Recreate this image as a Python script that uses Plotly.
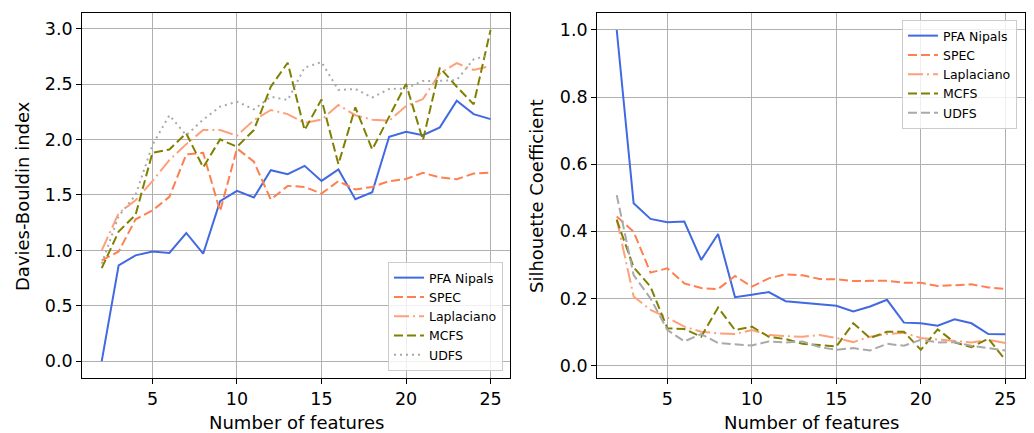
import plotly.graph_objects as go

# Number of selected features
features = list(range(2, 26))

# Davies-Bouldin index per method
pfa_db = [0.0, 0.865, 0.955, 0.99, 0.977, 1.157, 0.97, 1.444, 1.537, 1.477, 1.724, 1.688,
          1.763, 1.627, 1.73, 1.462, 1.525, 2.025, 2.07, 2.04, 2.11, 2.35, 2.23, 2.185]
spec_db = [0.91, 0.99, 1.28, 1.36, 1.483, 1.866, 1.881, 1.354, 1.92, 1.80, 1.459, 1.582,
           1.573, 1.513, 1.625, 1.55, 1.573, 1.625, 1.645, 1.70, 1.658, 1.643, 1.694, 1.703]
lap_db = [1.0, 1.335, 1.453, 1.625, 1.815, 1.959, 2.086, 2.086, 2.035, 2.176, 2.267, 2.23,
          2.15, 2.18, 2.312, 2.22, 2.18, 2.17, 2.303, 2.366, 2.598, 2.69, 2.628, 2.665]
mcfs_db = [0.84, 1.17, 1.32, 1.881, 1.911, 2.056, 1.749, 2.002, 1.935, 2.086, 2.477, 2.694,
           2.086, 2.363, 1.778, 2.291, 1.911, 2.206, 2.502, 1.995, 2.649, 2.477, 2.318, 2.99]
udfs_db = [0.88, 1.31, 1.50, 1.95, 2.22, 2.04, 2.18, 2.297, 2.342, 2.273, 2.387, 2.357,
           2.65, 2.70, 2.448, 2.457, 2.38, 2.457, 2.46, 2.53, 2.53, 2.538, 2.725, 2.764]

# Silhouette coefficient per method
pfa_sil = [1.0, 0.4835, 0.437, 0.427, 0.429, 0.315, 0.392, 0.204, 0.211, 0.219, 0.192, 0.188,
           0.183, 0.178, 0.161, 0.176, 0.196, 0.128, 0.126, 0.119, 0.138, 0.126, 0.094, 0.0935]
spec_sil = [0.444, 0.399, 0.277, 0.29, 0.245, 0.231, 0.228, 0.267, 0.235, 0.26, 0.272, 0.269,
            0.258, 0.257, 0.252, 0.252, 0.253, 0.247, 0.247, 0.237, 0.239, 0.242, 0.233, 0.228]
lap_sil = [0.436, 0.206, 0.166, 0.143, 0.116, 0.101, 0.096, 0.094, 0.106, 0.091, 0.088, 0.086,
           0.091, 0.082, 0.07, 0.086, 0.094, 0.098, 0.082, 0.077, 0.074, 0.069, 0.077, 0.067]
mcfs_sil = [0.434, 0.293, 0.235, 0.111, 0.109, 0.086, 0.173, 0.106, 0.116, 0.086, 0.079, 0.065,
            0.061, 0.057, 0.126, 0.082, 0.101, 0.101, 0.047, 0.108, 0.069, 0.055, 0.08, 0.017]
udfs_sil = [0.508, 0.27, 0.2, 0.106, 0.072, 0.094, 0.067, 0.064, 0.06, 0.072, 0.069, 0.072,
            0.055, 0.047, 0.052, 0.045, 0.065, 0.059, 0.077, 0.069, 0.07, 0.059, 0.051, 0.045]

x_ticks = [5, 10, 15, 20, 25]
db_ticks = [0.0, 0.5, 1.0, 1.5, 2.0, 2.5, 3.0]
sil_ticks = [0.0, 0.2, 0.4, 0.6, 0.8, 1.0]

W, H = 1034, 433
FONT = "DejaVu Sans"
TICK_SIZE = 17.5
TITLE_SIZE = 18
LEGEND_SIZE = 12.5

DASH = "9px,4px"
DASHDOT = "15px,4px,2px,4px"
DOT = "2px,4px"

left_series = [
    ("PFA Nipals", pfa_db, "#4169E1", "solid"),
    ("SPEC", spec_db, "#FF7F50", DASH),
    ("Laplaciano", lap_db, "#FFA07A", DASHDOT),
    ("MCFS", mcfs_db, "#808000", DASH),
    ("UDFS", udfs_db, "#A9A9A9", DOT),
]
right_series = [
    ("PFA Nipals", pfa_sil, "#4169E1", "solid"),
    ("SPEC", spec_sil, "#FF7F50", DASH),
    ("Laplaciano", lap_sil, "#FFA07A", DASHDOT),
    ("MCFS", mcfs_sil, "#808000", DASH),
    ("UDFS", udfs_sil, "#A9A9A9", DASH),
]

fig = go.Figure()
for name, vals, color, dash in left_series:
    fig.add_trace(go.Scatter(x=features, y=vals, mode="lines", name=name,
                             line=dict(color=color, width=2, dash=dash),
                             xaxis="x", yaxis="y", legend="legend"))
for name, vals, color, dash in right_series:
    fig.add_trace(go.Scatter(x=features, y=vals, mode="lines", name=name,
                             line=dict(color=color, width=2, dash=dash),
                             xaxis="x2", yaxis="y2", legend="legend2"))

def px_x(p):
    return p / W

def px_y(p):
    return 1 - p / H

axis_common = dict(
    showline=True, mirror=True, linecolor="black", linewidth=1.2,
    showgrid=True, gridcolor="#b0b0b0", gridwidth=1.2,
    ticks="outside", ticklen=5, tickwidth=1.2, tickcolor="black",
    tickfont=dict(family=FONT, size=TICK_SIZE, color="black"),
    zeroline=False, automargin=False,
)

ydom = [px_y(378), px_y(13.3)]

legend_style = dict(bgcolor="rgba(255,255,255,0.8)", bordercolor="#cccccc", borderwidth=1,
                    font=dict(family=FONT, size=LEGEND_SIZE, color="black"))

def axis_title(text, x, y, angle=0):
    return dict(text=text, x=px_x(x), y=px_y(y), xref="paper", yref="paper",
                showarrow=False, xanchor="center", yanchor="middle", textangle=angle,
                font=dict(family=FONT, size=TITLE_SIZE, color="black"))

fig.update_layout(
    width=W, height=H,
    margin=dict(l=0, r=0, t=0, b=0),
    paper_bgcolor="white", plot_bgcolor="white",
    font=dict(family=FONT, color="black"),
    xaxis=dict(domain=[px_x(82.3), px_x(510)], range=[0.85, 26.15],
               tickvals=x_ticks, anchor="y", **axis_common),
    yaxis=dict(domain=ydom, range=[-0.152, 3.14], tickvals=db_ticks,
               tickformat=".1f", anchor="x", **axis_common),
    xaxis2=dict(domain=[px_x(597.3), px_x(1024.7)], range=[0.85, 26.15],
                tickvals=x_ticks, anchor="y2", **axis_common),
    yaxis2=dict(domain=ydom, range=[-0.037, 1.0497], tickvals=sil_ticks,
                tickformat=".1f", anchor="x2", **axis_common),
    legend=dict(x=px_x(503), y=px_y(371), xanchor="right", yanchor="bottom", **legend_style),
    legend2=dict(x=px_x(1017), y=px_y(20), xanchor="right", yanchor="top", **legend_style),
    annotations=[
        axis_title("Number of features", 296, 422),
        axis_title("Number of features", 811, 422),
        axis_title("Davies-Bouldin index", 22, 196, -90),
        axis_title("Silhouette Coefficient", 536, 196, -90),
    ],
)

fig.write_html("out.html")
